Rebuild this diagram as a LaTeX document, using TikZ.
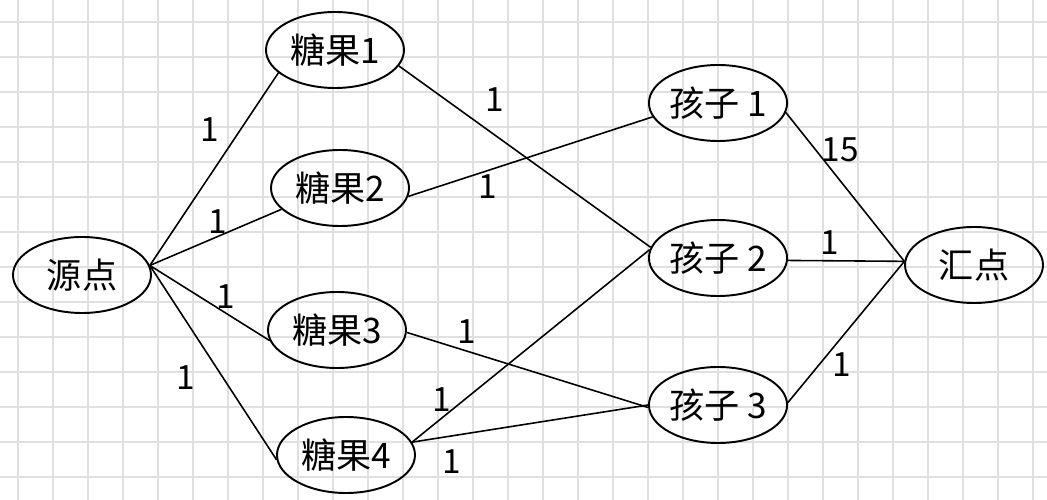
\documentclass[tikz,border=0pt]{standalone}
\usepackage{fontspec}
\setmainfont{Noto Sans CJK SC}
\usetikzlibrary{shapes.geometric,positioning}

\begin{document}
\begin{tikzpicture}[every node/.style={
    ellipse,
    draw,
    line width=1.1pt,
    minimum height=1.52cm,
    minimum width=2.76cm,
    inner sep=0pt,
    font=\fontsize{20}{22}\selectfont,
  }, lbl/.style={
    rectangle,
    draw=none,
    minimum height=0pt,
    minimum width=0pt,
    font=\fontsize{19}{21}\selectfont,
  }, gridline/.style={draw=black!12, line width=0.8pt},
  line width=0.9pt]

  \useasboundingbox (0,0) rectangle (20.94,-10);
  \fill[white] (0,0) rectangle (20.94,-10);
  \foreach \x in {0,...,29}
    \draw[gridline] ({0.36+0.7*\x},0) -- ({0.36+0.7*\x},-10);
  \foreach \y in {0,...,13}
    \draw[gridline] (0,{-0.44-0.7*\y}) -- (20.94,{-0.44-0.7*\y});

  \node (src) at (1.64,-5.5) {源点};
  \node (t1) at (6.7,-1.0) {糖果1};
  \node (t2) at (6.8,-3.76) {糖果2};
  \node (t3) at (6.74,-6.6) {糖果3};
  \node (t4) at (6.92,-9.1) {糖果4};
  \node (k1) at (14.36,-2.06) {孩子 1};
  \node[below of=k1, node distance=3.1cm] (k2) {孩子 2};
  \node[below of=k2, node distance=2.94cm] (k3) {孩子 3};
  \node (snk) at (19.48,-5.3) {汇点};

  \draw (src.8) -- (t1.202);
  \draw (src.8) -- (t2.200);
  \draw (src.8) -- (t3.189);
  \draw (src.8) -- (t4.184);

  \draw (t1.-14) -- (k2.171);
  \draw (t2.-7) -- (k1.192);
  \draw (t3.-2) -- (k3.182);
  \draw (t4.11) -- (k2.173);
  \draw (t4.11) -- (k3.180);

  \draw (k1.-8) -- (snk.177);
  \draw (k2.-2) -- (snk.177);
  \draw (k3.2) -- (snk.177);

  \node[lbl] (c1) at (4.2,-2.6) {1};
  \node[lbl] (c2) at (4.36,-4.44) {1};
  \node[lbl] (c3) at (4.52,-5.94) {1};
  \node[lbl] (c4) at (3.72,-7.56) {1};
  \node[lbl] (c5) at (9.9,-2.0) {1};
  \node[lbl] (c6) at (9.76,-3.74) {1};
  \node[lbl] (c7) at (9.34,-6.64) {1};
  \node[lbl] (c8) at (8.84,-8.0) {1};
  \node[lbl] (c9) at (9.04,-9.24) {1};
  \node[lbl] (c10) at (16.8,-3.0) {15};
  \node[lbl] (c11) at (16.6,-4.86) {1};
  \node[lbl] (c12) at (16.84,-7.3) {1};

\end{tikzpicture}
\end{document}
